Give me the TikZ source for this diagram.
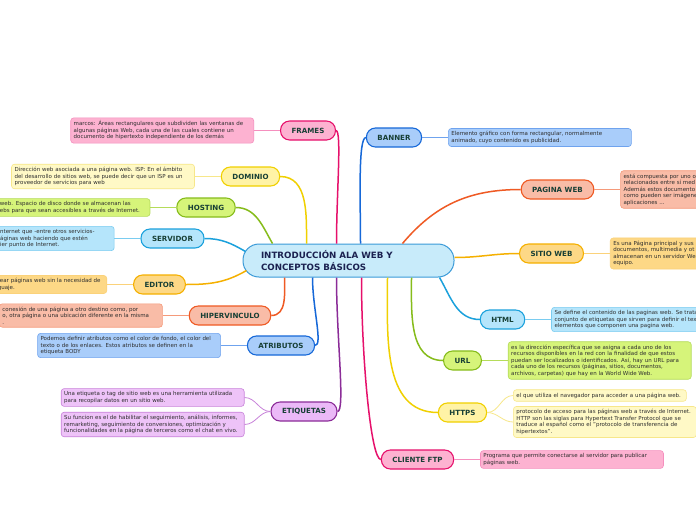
\documentclass[tikz,border=0pt]{standalone}
\usepackage{fontspec}
\setmainfont{DejaVu Sans}
\usepackage{tikz}
\usetikzlibrary{positioning}

\definecolor{pinkfill}{HTML}{FDB2D1}
\definecolor{pinkdraw}{HTML}{E6106B}
\definecolor{pinkline}{HTML}{F58FBE}
\definecolor{yelfill}{HTML}{FFF3A6}
\definecolor{yeldraw}{HTML}{F0D000}
\definecolor{yelnote}{HTML}{FFF9C6}
\definecolor{yelline}{HTML}{F7E78A}
\definecolor{greenfill}{HTML}{D6F47A}
\definecolor{greendraw}{HTML}{86BC1B}
\definecolor{greenline}{HTML}{B5DC5A}
\definecolor{skyfill}{HTML}{B5E5FB}
\definecolor{skydraw}{HTML}{1BA1DC}
\definecolor{skyline}{HTML}{7ACCF0}
\definecolor{ambfill}{HTML}{FDD886}
\definecolor{ambdraw}{HTML}{F5B000}
\definecolor{ambline}{HTML}{FBD27A}
\definecolor{salfill}{HTML}{F9BCA7}
\definecolor{saldraw}{HTML}{EF5A24}
\definecolor{salline}{HTML}{F59A7A}
\definecolor{bluefill}{HTML}{A9CDFA}
\definecolor{bluedraw}{HTML}{1668D8}
\definecolor{blueline}{HTML}{6FA3EE}
\definecolor{purfill}{HTML}{EBB9F7}
\definecolor{purnote}{HTML}{EEC3F8}
\definecolor{purdraw}{HTML}{8B2C98}
\definecolor{purline}{HTML}{C883DA}
\definecolor{centralfill}{HTML}{C8EBFA}
\definecolor{centraldraw}{HTML}{3A9AD8}
\definecolor{centraltext}{HTML}{1B2150}
\definecolor{topictext}{HTML}{173F35}
\definecolor{notetext}{HTML}{2E2E2E}

\begin{document}
\begin{tikzpicture}[x=1pt, y=1pt, node distance=26pt]
        \tikzstyle{topic}=[rectangle, draw, rounded corners=9pt, line width=1.1pt, minimum height=19pt, inner xsep=11pt, inner ysep=0pt, text=topictext, font=\fontsize{7.1}{8}\selectfont\bfseries]
        \tikzstyle{note}=[rectangle, draw, rounded corners=3pt, line width=0.6pt, align=left, text width=177pt, inner xsep=3pt, inner ysep=3pt, text=notetext, font=\fontsize{5.5}{6.5}\selectfont]
        \tikzstyle{branch}=[line width=1.5pt]
        \tikzstyle{twig}=[line width=0.8pt]

        \useasboundingbox (0,0) rectangle (696,-520);
        \clip (0,0) rectangle (696,-520);
        \fill[white] (0,0) rectangle (696,-520);

        \node[rectangle, draw=centraldraw, fill=centralfill, line width=1pt, rounded corners=16pt, text width=175pt, align=left, inner xsep=18pt, minimum height=33pt, text=centraltext, font=\fontsize{8.7}{11.3}\selectfont\bfseries] (central) at (348.5,-260.5) {INTRODUCCIÓN ALA WEB Y\\CONCEPTOS BÁSICOS};

        \node[topic, fill=pinkfill, draw=pinkdraw] (frames) at (308,-130.5) {FRAMES};
        \node[topic, fill=yelfill, draw=yeldraw] (dominio) at (250.5,-176.5) {DOMINIO};
        \node[topic, fill=greenfill, draw=greendraw] (hosting) at (206,-207.5) {HOSTING};
        \node[topic, fill=skyfill, draw=skydraw] (servidor) at (172.5,-238.5) {SERVIDOR};
        \node[topic, fill=ambfill, draw=ambdraw] (editor) at (159.5,-284.5) {EDITOR};
        \node[topic, fill=salfill, draw=saldraw] (hipervinculo) at (230,-315.5) {HIPERVINCULO};
        \node[topic, fill=bluefill, draw=bluedraw] (atributos) at (281,-345.5) {ATRIBUTOS};
        \node[topic, fill=purfill, draw=purdraw] (etiquetas) at (304,-411.5) {ETIQUETAS};
        \node[topic, fill=bluefill, draw=bluedraw] (banner) at (394,-137.5) {BANNER};
        \node[topic, fill=salfill, draw=saldraw] (paginaweb) at (557.5,-189.5) {PAGINA WEB};
        \node[topic, fill=ambfill, draw=ambdraw] (sitioweb) at (551.5,-253.5) {SITIO WEB};
        \node[topic, fill=skyfill, draw=skydraw] (html) at (502.5,-319.5) {HTML};
        \node[topic, fill=greenfill, draw=greendraw] (url) at (462.5,-360.5) {URL};
        \node[topic, fill=yelfill, draw=yeldraw] (https) at (462.5,-412.5) {HTTPS};
        \node[topic, fill=pinkfill, draw=pinkdraw] (clienteftp) at (417.5,-459.5) {CLIENTE FTP};

        \node[note, fill=pinkfill, draw=pinkline, left=of frames] (framesnote) {marcos: Áreas rectangulares que subdividen las ventanas de\\algunas páginas Web, cada una de las cuales contiene un\\documento de hipertexto independiente de los demás};
        \node[note, fill=yelnote, draw=yelline, left=of dominio] (dominionote) {Dirección web asociada a una página web. ISP: En el ámbito\\del desarrollo de sitios web, se puede decir que un ISP es un\\proveedor de servicios para web};
        \node[note, fill=greenfill, draw=greenline, left=of hosting, text width=147pt] (hostingnote) {web. Espacio de disco donde se almacenan las\\ebs para que sean accesibles a través de Internet.};
        \node[note, fill=skyfill, draw=skyline, left=of servidor, text width=111pt] (servidornote) {nternet que -entre otros servicios-\\áginas web haciendo que estén\\ier punto de Internet.};
        \node[note, fill=ambfill, draw=ambline, left=of editor, text width=106pt] (editornote) {rear páginas web sin la necesidad de\\guaje.};
        \node[note, fill=salfill, draw=salline, left=of hipervinculo, text width=157pt] (hipervinculonote) {conesión de una página a otro destino como, por\\o, otra página o una ubicación diferente en la misma\\.};
        \node[note, fill=bluefill, draw=blueline, left=of atributos] (atributosnote) {Podemos definir atributos como el color de fondo, el color del\\texto o de los enlaces. Estos atributos se definen en la\\etiqueta BODY};
        \node[note, fill=purnote, draw=purline, left=of etiquetas, yshift=14pt] (etiquetasnoteA) {Una etiqueta o tag de sitio web es una herramienta utilizada\\para recopilar datos en un sitio web.};
        \node[note, fill=purnote, draw=purline, left=of etiquetas, yshift=-13pt] (etiquetasnoteB) {Su funcion es el de habilitar el seguimiento, análisis, informes,\\remarketing, seguimiento de conversiones, optimización y\\funcionalidades en la página de terceros como el chat en vivo.};
        \node[note, fill=bluefill, draw=blueline, right=of banner] (bannernote) {Elemento gráfico con forma rectangular, normalmente\\animado, cuyo contenido es publicidad.};
        \node[note, fill=salfill, draw=salline, right=of paginaweb] (paginawebnote) {está compuesta por uno o\\relacionados entre sí med\\Además estos documento\\como pueden ser imágene\\aplicaciones ...};
        \node[note, fill=ambfill, draw=ambline, right=of sitioweb] (sitiowebnote) {Es una Página principal y sus\\documentos, multimedia y ot\\almacenan en un servidor We\\equipo.};
        \node[note, fill=skyfill, draw=skyline, right=of html] (htmlnote) {Se define el contenido de las paginas web. Se trata\\conjunto de etiquetas que sirven para definir el tex\\elementos que componen una pagina web.};
        \node[note, fill=greenfill, draw=greenline, right=of url] (urlnote) {es la dirección específica que se asigna a cada uno de los\\recursos disponibles en la red con la finalidad de que estos\\puedan ser localizados o identificados. Así, hay un URL para\\cada uno de los recursos (páginas, sitios, documentos,\\archivos, carpetas) que hay en la World Wide Web.};
        \node[note, fill=yelnote, draw=yelline, right=of https, yshift=17pt, text width=167pt] (httpsnoteA) {el que utiliza el navegador para acceder a una página web.};
        \node[note, fill=yelnote, draw=yelline, right=of https, yshift=-9.5pt] (httpsnoteB) {protocolo de acceso para las páginas web a través de Internet.\\HTTP son las siglas para Hypertext Transfer Protocol que se\\traduce al español como el "protocolo de transferencia de\\hipertextos".};
        \node[note, fill=pinkfill, draw=pinkline, right=of clienteftp] (clienteftpnote) {Programa que permite conectarse al servidor para publicar\\páginas web.};

        \draw[branch, pinkdraw] (frames.east) to[out=0, in=90, out distance=6pt, in distance=50pt] ([xshift=94pt]central.north west);
        \draw[branch, yeldraw] (dominio.east) to[out=0, in=90] ([xshift=64pt]central.north west);
        \draw[branch, greendraw] (hosting.east) to[out=0, in=120] ([xshift=30pt]central.north west);
        \draw[branch, skydraw] (servidor.east) to[out=0, in=150] ([xshift=3pt, yshift=9pt]central.west);
        \draw[branch, ambdraw] (editor.east) to[out=0, in=210] ([xshift=4pt, yshift=-10pt]central.west);
        \draw[branch, saldraw] (hipervinculo.east) to[out=0, in=270] ([xshift=42pt]central.south west);
        \draw[branch, bluedraw] (atributos.east) to[out=0, in=270, out distance=8pt, in distance=30pt] ([xshift=70pt]central.south west);
        \draw[branch, purdraw] (etiquetas.east) to[out=0, in=270, out distance=8pt, in distance=60pt] ([xshift=94pt]central.south west);
        \draw[branch, bluedraw] (banner.west) to[out=180, in=90, out distance=8pt, in distance=40pt] ([xshift=118pt]central.north west);
        \draw[branch, saldraw] (paginaweb.west) to[out=180, in=50] ([xshift=160pt]central.north west);
        \draw[branch, ambdraw] (sitioweb.west) to[out=180, in=0] ([yshift=3pt]central.east);
        \draw[branch, skydraw] (html.west) to[out=180, in=300] ([xshift=197pt]central.south west);
        \draw[branch, greendraw] (url.west) to[out=180, in=270] ([xshift=169pt]central.south west);
        \draw[branch, yeldraw] (https.west) to[out=180, in=270] ([xshift=145pt]central.south west);
        \draw[branch, pinkdraw] (clienteftp.west) to[out=180, in=270, out distance=10pt, in distance=80pt] ([xshift=119pt]central.south west);

        \draw[twig, pinkline] (frames) -- (framesnote);
        \draw[twig, yelline] (dominio) -- (dominionote);
        \draw[twig, greenline] (hosting) -- (hostingnote);
        \draw[twig, skyline] (servidor) -- (servidornote);
        \draw[twig, ambline] (editor) -- (editornote);
        \draw[twig, salline] (hipervinculo) -- (hipervinculonote);
        \draw[twig, blueline] (atributos) -- (atributosnote);
        \draw[twig, purline] (etiquetas.west) to[out=180, in=0] (etiquetasnoteA.east);
        \draw[twig, purline] (etiquetas.west) to[out=180, in=0] (etiquetasnoteB.east);
        \draw[twig, blueline] (banner) -- (bannernote);
        \draw[twig, salline] (paginaweb) -- (paginawebnote);
        \draw[twig, ambline] (sitioweb) -- (sitiowebnote);
        \draw[twig, skyline] (html) -- (htmlnote);
        \draw[twig, greenline] (url) -- (urlnote);
        \draw[twig, yelline] (https.east) to[out=0, in=180] (httpsnoteA.west);
        \draw[twig, yelline] (https.east) to[out=0, in=180] (httpsnoteB.west);
        \draw[twig, pinkline] (clienteftp) -- (clienteftpnote);
    \end{tikzpicture}
\end{document}
